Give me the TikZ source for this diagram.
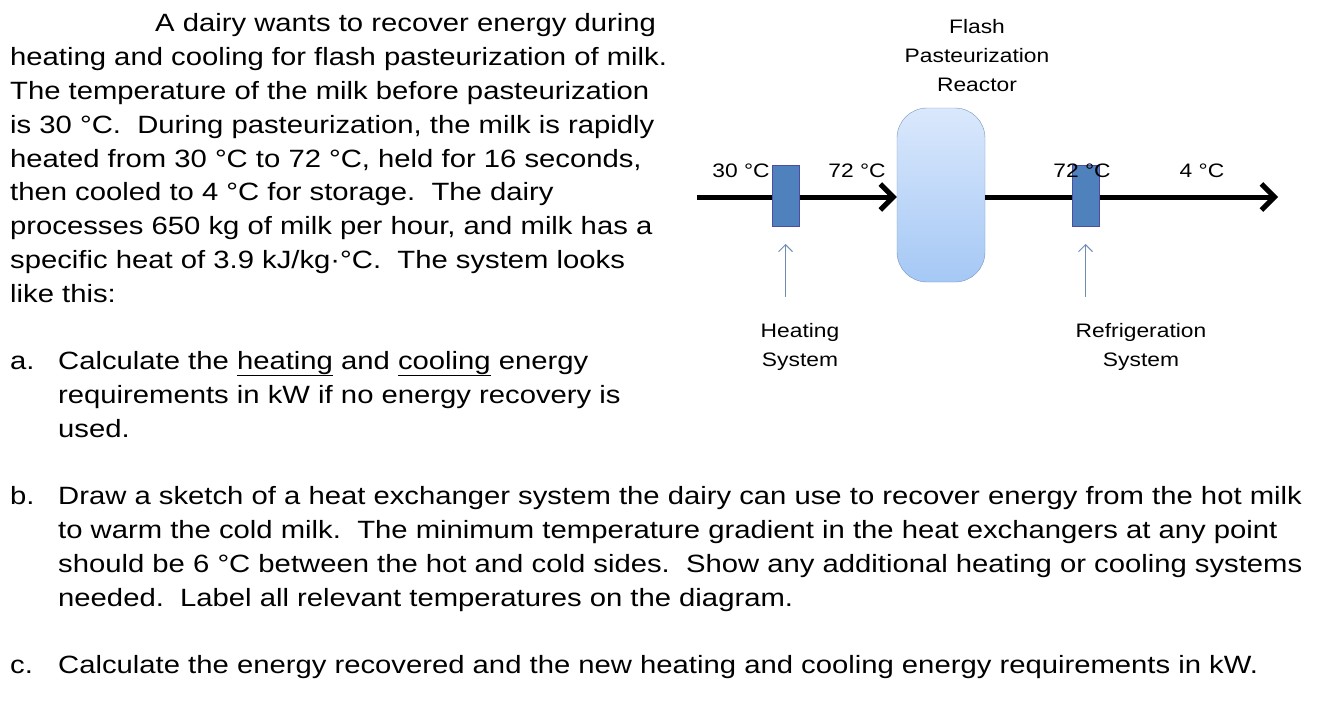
\documentclass[tikz,border=0pt]{standalone}
\usepackage{fontspec}
\setmainfont[FakeStretch=1.17]{Liberation Sans}
\usetikzlibrary{arrows.meta}
\begin{document}
\begin{tikzpicture}[x=1pt,y=-1pt,
  txt/.style={anchor=base west,inner sep=0pt,font=\fontsize{25}{30}\selectfont},
  lbl/.style={inner sep=0pt,font=\fontsize{19.5}{29}\selectfont,align=center},
  hx/.style={draw=blue!50!black!70,fill={rgb,255:red,79;green,129;blue,189},minimum width=27pt,minimum height=61pt,inner sep=0pt},
  flow/.style={line width=5pt,-{Straight Barb[length=13pt,width=26pt,line width=5pt]}},
  feed/.style={draw={rgb,255:red,110;green,140;blue,180},line width=1pt,-{Straight Barb[length=7pt,width=14pt]}}]
\useasboundingbox[fill=white] (0,0) rectangle (1320,702);
% text
\node[txt] (t1) at (155,31) {A dairy wants to recover energy during};
\node[txt] (t2) at (10,65) {heating and cooling for flash pasteurization of milk.};
\node[txt] (t3) at (10,99) {The temperature of the milk before pasteurization};
\node[txt] (t4) at (10,133) {is 30 °C.\ \ During pasteurization, the milk is rapidly};
\node[txt] (t5) at (10,167) {heated from 30 °C to 72 °C, held for 16 seconds,};
\node[txt] (t6) at (10,200) {then cooled to 4 °C for storage.\ \ The dairy};
\node[txt] (t7) at (10,234) {processes 650 kg of milk per hour, and milk has a};
\node[txt] (t8) at (10,268) {specific heat of 3.9 kJ/kg·°C.\ \ The system looks};
\node[txt] (t9) at (10,302) {like this:};
\node[txt] (a0) at (10,369) {a.};
\node[txt] (a1) at (58,369) {Calculate the \underline{heating} and \underline{cooling} energy};
\node[txt] (a2) at (58,403) {requirements in kW if no energy recovery is};
\node[txt] (a3) at (58,437) {used.};
\node[txt] (b0) at (10,504) {b.};
\node[txt] (b1) at (58,504) {Draw a sketch of a heat exchanger system the dairy can use to recover energy from the hot milk};
\node[txt] (b2) at (58,538) {to warm the cold milk.\ \ The minimum temperature gradient in the heat exchangers at any point};
\node[txt] (b3) at (58,572) {should be 6 °C between the hot and cold sides.\ \ Show any additional heating or cooling systems};
\node[txt] (b4) at (58,606) {needed.\ \ Label all relevant temperatures on the diagram.};
\node[txt] (c0) at (10,673) {c.};
\node[txt] (c1) at (58,673) {Calculate the energy recovered and the new heating and cooling energy requirements in kW.};
% diagram
\node[lbl] (title) at (977,56) {Flash\\Pasteurization\\Reactor};
\node[draw={rgb,255:red,120;green,150;blue,190},rounded corners=30pt,minimum width=88pt,minimum height=174pt,
  top color={rgb,255:red,218;green,232;blue,252},bottom color={rgb,255:red,165;green,200;blue,245},inner sep=0pt] (R) at (941,195) {};
\coordinate (in) at (697,197);
\coordinate (out) at (1278,197);
\node[hx] (H1) at (785.5,195.5) {};
\node[hx] (H2) at (1085.5,195.5) {};
\draw[flow] (in) -- (R.west|-in);
\draw[flow] (R.east|-in) -- (out);
\node[hx] at (H1) {};
\node[hx] at (H2) {};
\node[lbl] (l1) at (741,171) {30 °C};
\node[lbl] (l2) at (857,171) {72 °C};
\node[lbl] (l3) at (1082,171) {72 °C};
\node[lbl] (l4) at (1202,171) {4 °C};
\node[lbl] (hs) at (800,347) {Heating\\System};
\node[lbl] (rs) at (1141,347) {Refrigeration\\System};
\coordinate (f1) at (785.5,297);
\coordinate (f2) at (1085.5,297);
\draw[feed] (f1) -- (785.5,244);
\draw[feed] (f2) -- (1085.5,244);
\end{tikzpicture}
\end{document}
